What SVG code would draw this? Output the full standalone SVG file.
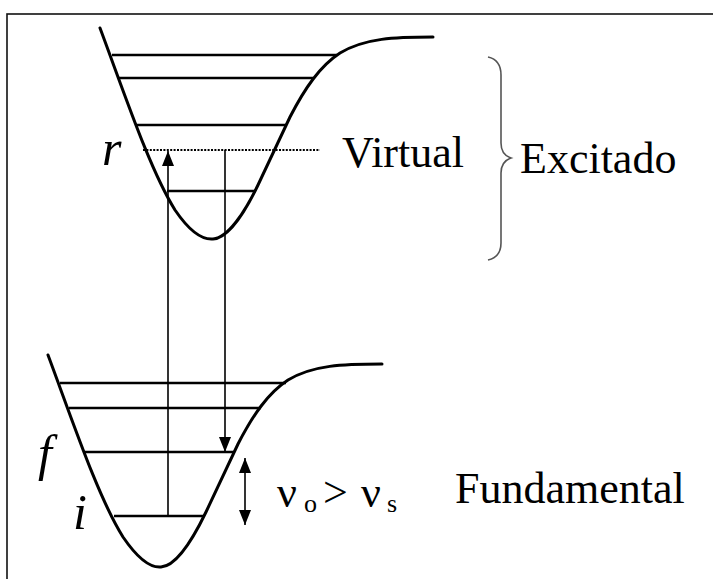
<svg xmlns="http://www.w3.org/2000/svg" width="713" height="579" viewBox="0 0 713 579">
<defs>
<style>
.curve{fill:none;stroke:#000;stroke-width:3;stroke-linecap:round}
.lvl{stroke:#000;stroke-width:2.6}
.arr{stroke:#000;stroke-width:1.6;fill:none}
text{fill:#000;font-family:"Liberation Serif","Times New Roman",Times,"Nimbus Roman","Nimbus Roman No9 L",FreeSerif,Tinos,"Noto Serif","DejaVu Serif",serif}
</style>
<marker id="ah" viewBox="0 0 15 12" refX="15" refY="6" markerWidth="15" markerHeight="12" markerUnits="userSpaceOnUse" orient="auto-start-reverse">
<path d="M0,0 L15,6 L0,12 Z" fill="#000"/>
</marker>
</defs>
<rect width="713" height="579" fill="#fff"/>
<rect id="frame" x="7" y="14" width="720" height="600" fill="none" stroke="#111" stroke-width="1.6"/>

<g id="excited-well">
<path class="curve" d="M100,28 C125,95 150,170 175,210 C190,232 202,240 213,239 C228,238 245,212 258,185 L290,117 C305,88 320,66 340,53 C365,38 395,37 433,37"/>
<line class="lvl" x1="112" y1="55" x2="337" y2="55"/>
<line class="lvl" x1="119" y1="78" x2="313" y2="78"/>
<line class="lvl" x1="137" y1="125" x2="286" y2="125"/>
<line class="lvl" x1="167" y1="191" x2="256" y2="191"/>
</g>

<g id="virtual-level">
<line x1="143" y1="150" x2="320" y2="150" stroke="#000" stroke-width="2" stroke-dasharray="2,1.4"/>
<text x="102" y="165" font-size="50" font-style="italic">r</text>
<text x="342" y="167" font-size="44">Virtual</text>
</g>

<g id="ground-well">
<path class="curve" d="M48,355 C73,422 98,497 123,537 C138,559 150,568 161,567 C176,566 193,539 206,512 L238,444 C253,415 268,393 288,380 C313,365 343,364 382,364"/>
<line class="lvl" x1="60" y1="383" x2="286" y2="383"/>
<line class="lvl" x1="69" y1="408" x2="261" y2="408"/>
<line class="lvl" x1="85" y1="452" x2="234" y2="452"/>
<line class="lvl" x1="114" y1="516" x2="204" y2="516"/>
<text x="38" y="470" font-size="50" font-style="italic">f</text>
<text x="73" y="529" font-size="50" font-style="italic">i</text>
</g>

<g id="excited-label">
<path d="M488,57 C497,59 501,65 501,75 L501,143 C501,152 505,156 511,158 C505,160 501,164 501,173 L501,243 C501,253 497,258 488,260" fill="none" stroke="#555" stroke-width="1.6"/>
<text x="520" y="173" font-size="44">Excitado</text>
</g>

<g id="ground-label">
<text x="455" y="503" font-size="44">Fundamental</text>
</g>

<g id="freq-label">
<text x="277" y="507" font-size="44">ν</text>
<text x="304" y="512" font-size="26">o</text>
<text x="323" y="507" font-size="44">&gt;</text>
<text x="361" y="507" font-size="44">ν</text>
<text x="387" y="512" font-size="26">s</text>
</g>

<g id="connectors">
<line class="arr" x1="168" y1="516" x2="168" y2="151" marker-end="url(#ah)"/>
<line class="arr" x1="225" y1="150" x2="225" y2="452" marker-end="url(#ah)"/>
<line class="arr" x1="245" y1="458" x2="245" y2="525" stroke-width="2" marker-start="url(#ah)" marker-end="url(#ah)"/>
</g>
</svg>
